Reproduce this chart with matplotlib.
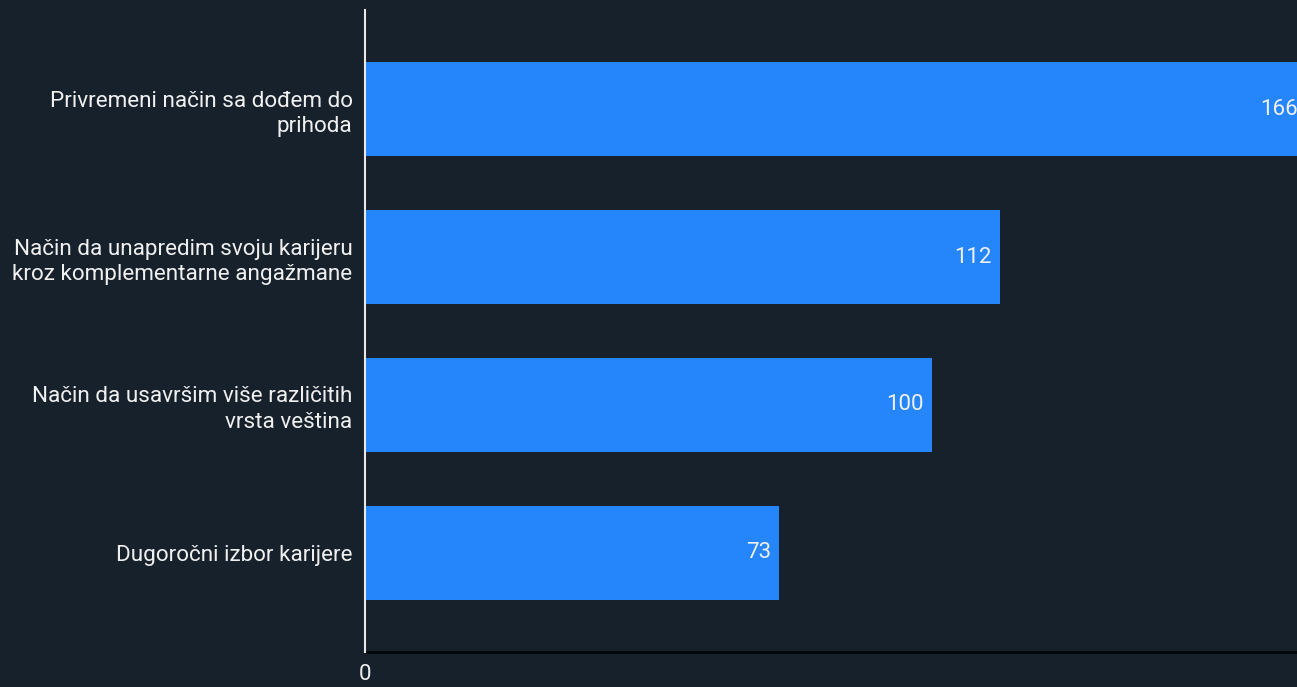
import matplotlib.pyplot as plt

categories = [
    "Privremeni način sa dođem do\nprihoda",
    "Način da unapredim svoju karijeru\nkroz komplementarne angažmane",
    "Način da usavršim više različitih\nvrsta veština",
    "Dugoročni izbor karijere",
]
values = [166, 112, 100, 73]
x_ticks = [0]

bg = "#17212b"
bar_color = "#2585fa"
txt = "#f0f0f0"

plt.rcParams['font.family'] = ['Roboto', 'DejaVu Sans']

fig = plt.figure(figsize=(12.97, 6.87), dpi=100)
fig.patch.set_facecolor(bg)
# axes runs past the right figure edge, so the top bar gets cut off
ax = fig.add_axes([365 / 1297, 35 / 687, 964 / 1297, 642 / 687])
ax.set_facecolor(bg)

ypos = list(range(len(values)))
bars = ax.barh(ypos, values, height=0.64, color=bar_color)
ax.set_xlim(0, 170)
ax.set_ylim(3.67, -0.67)

for b, v in zip(bars, values):
    ax.text(b.get_width() - 1.4, b.get_y() + b.get_height() / 2, str(v),
            ha="right", va="center", color=txt, fontsize=16)

ax.set_yticks(ypos)
ax.set_yticklabels(categories, fontsize=16.2, color=txt, linespacing=1.3)
ax.set_xticks(x_ticks)
ax.set_xticklabels([str(t) for t in x_ticks], fontsize=16, color=txt)
ax.tick_params(axis="y", length=0, pad=9)
ax.tick_params(axis="x", length=0, pad=9)

for s in ["top", "right"]:
    ax.spines[s].set_visible(False)
ax.spines["left"].set_color("#e8e8e8")
ax.spines["left"].set_linewidth(1.5)
ax.spines["left"].set_zorder(3)
ax.spines["bottom"].set_color("#05080a")
ax.spines["bottom"].set_linewidth(2)

fig.savefig("out.png", dpi=100, facecolor=bg)
